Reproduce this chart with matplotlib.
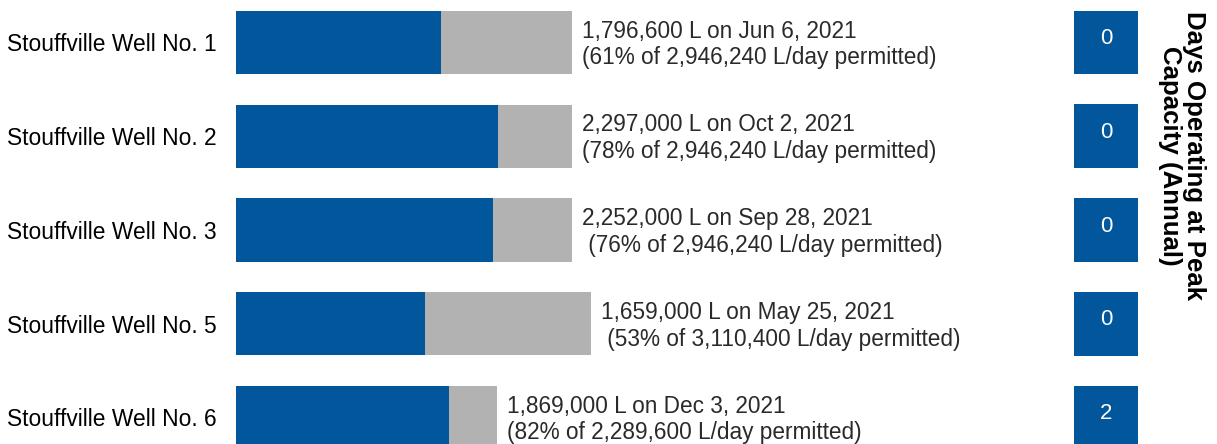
import matplotlib
matplotlib.use("Agg")
import matplotlib.pyplot as plt

plt.rcParams['font.family'] = ['Liberation Sans', 'DejaVu Sans']

wells = ["Stouffville Well No. 1", "Stouffville Well No. 2", "Stouffville Well No. 3",
         "Stouffville Well No. 5", "Stouffville Well No. 6"]
peak_flow = [1796600, 2297000, 2252000, 1659000, 1869000]
permitted = [2946240, 2946240, 2946240, 3110400, 2289600]
peak_labels = [
    "1,796,600 L on Jun 6, 2021\n(61% of 2,946,240 L/day permitted)",
    "2,297,000 L on Oct 2, 2021\n(78% of 2,946,240 L/day permitted)",
    "2,252,000 L on Sep 28, 2021\n (76% of 2,946,240 L/day permitted)",
    "1,659,000 L on May 25, 2021\n (53% of 3,110,400 L/day permitted)",
    "1,869,000 L on Dec 3, 2021\n(82% of 2,289,600 L/day permitted)",
]
days_at_peak = [0, 0, 0, 0, 2]

BLUE = "#02569C"
GRAY = "#B2B2B2"

W, H = 1217, 444
fig = plt.figure(figsize=(W / 100, H / 100), dpi=100)

ax = fig.add_axes([236 / W, 0, (1000 - 236) / W, 1])
ypos = list(range(len(wells)))
ax.barh(ypos, permitted, height=0.675, color=GRAY)
ax.barh(ypos, peak_flow, height=0.675, color=BLUE)
ax.set_xlim(0, 764 / 1.1405e-4)
ax.set_ylim(4.283, -0.453)
ax.set_yticks(ypos)
ax.set_yticklabels(wells, fontsize=16.4, color="black")
ax.tick_params(axis='y', length=0, pad=14)
ax.set_xticks([])
for s in ax.spines.values():
    s.set_visible(False)
for y, p, lab in zip(ypos, permitted, peak_labels):
    ax.annotate(lab, xy=(p, y), xytext=(10, -2), textcoords="offset pixels",
                ha="left", va="center", fontsize=16.3, color="#2a2a2a",
                linespacing=1.2)

ax2 = fig.add_axes([1074 / W, 0, 64 / W, 1])
ax2.barh(ypos, [1] * len(ypos), height=0.68, color=BLUE)
ax2.set_xlim(0, 1)
ax2.set_ylim(4.283, -0.453)
ax2.axis("off")
for y, d in zip(ypos, days_at_peak):
    ax2.text(0.5, y - 0.04, str(d), ha="center", va="center", color="white", fontsize=16)

fig.text(1182 / W, 1 - 11 / H, "Days Operating at Peak\nCapacity (Annual)",
         rotation=-90, ha="center", va="top", multialignment="center",
         fontsize=18.6, fontweight="bold", linespacing=1.05)

fig.savefig("out.png", dpi=100)
